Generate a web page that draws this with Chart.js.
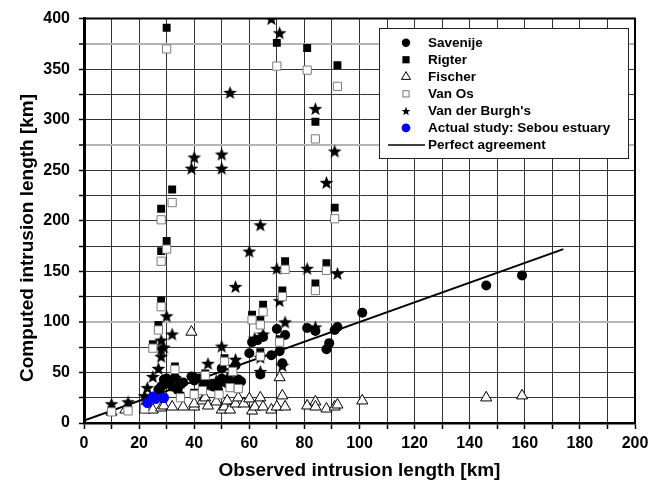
<!DOCTYPE html>
<html>
<head>
<meta charset="utf-8">
<script src="https://cdn.jsdelivr.net/npm/chart.js@4/dist/chart.umd.min.js"></script>
<style>
  html, body { margin: 0; padding: 0; background: #fff; }
  #wrap { width: 660px; height: 489px; }
</style>
</head>
<body>
<div id="wrap"><canvas id="c" width="660" height="489"></canvas></div>
<script>
// ---- data: observed vs computed salt intrusion length (km) ----
const savenijeObs  = [27,28,29,29,30,31,32,33,34,35,36,39,40,40,42,43,44,46,47,48,49,50,50,51,52,53,54,55,56,57,55,60,61,63,65,64,68,70,71,72,73,81,84,88,89,91,92,101,146,159];
const savenijeCalc = [33,36,38,43,44,40,36,45,33,38,40,46,42,45,44,43,40,38,36,37,39,54,44,41,39,37,40,41,43,41,57,69,80,82,85,48,67,93,71,59,87,94,91,73,79,92,95,109,136,146];

const rigterObs  = [30,70,81,92,84,32,28,30,28,91,73,88,84,72,65,61,64,28,27,25,71,64,51,33,44,54,43,49,53,56,35,40,10,16,22];
const rigterCalc = [391,376,371,354,298,231,212,180,170,213,160,158,138,131,117,107,102,121,97,78,83,70,64,56,49,54,35,31,38,36,27,30,13,14,16];

const fischerObs  = [39,71,146,159,101,10,15,22,25,28,29,32,36,40,40,43,44,45,48,50,51,52,53,55,56,58,60,61,62,64,65,68,70,72,73,81,84,84,88,91,92];
const fischerCalc = [90,45,25,27,22,11,13,13,13,15,17,16,16,16,19,22,25,17,21,13,16,22,13,19,25,19,24,12,16,25,16,13,16,27,16,17,21,16,14,16,18];

const vanOsObs  = [30,70,81,92,84,32,28,91,30,28,73,88,84,72,28,65,61,64,27,25,71,64,51,33,54,44,43,49,53,56,35,40,10,16,22];
const vanOsCalc = [370,353,349,333,281,218,201,202,172,160,152,151,131,125,115,110,102,97,92,74,80,66,61,53,51,47,32,28,35,34,25,28,11,12,14];

const burghObs  = [68,71,53,84,91,40,39,50,50,88,64,60,70,81,92,55,71,30,73,32,84,62,65,28,29,28,28,27,25,23,22,50,45,55,64,64,72,10,16,33,35,44,48,52,56];
const burghCalc = [400,386,327,311,269,263,252,266,252,238,196,170,153,153,148,135,121,106,100,88,95,84,88,82,75,73,66,54,46,35,27,76,59,63,65,51,57,19,21,45,40,38,42,45,42];

const sebouObs  = [23,25,26,29];
const sebouCalc = [20,26,24,25];

const agreementObs  = [0,174];
const agreementCalc = [2.5,172];

const seriesNames = ['Savenije','Rigter','Fischer','Van Os',"Van der Burgh's",'Actual study: Sebou estuary','Perfect agreement'];
const xTitle = 'Observed intrusion length [km]';
const yTitle = 'Computed intrusion length [km]';

const FONT = '"Liberation Sans", Arial, Helvetica, sans-serif';

const pts = (xs, ys) => xs.map((x, i) => ({ x: x, y: ys[i] }));

// filled five-pointed star used as a point style
function makeStar(size) {
  const cv = document.createElement('canvas');
  cv.width = size; cv.height = size;
  const g = cv.getContext('2d');
  const c = size / 2, ro = size / 2 - 0.3, ri = ro * 0.42;
  g.beginPath();
  for (let i = 0; i < 10; i++) {
    const r = i % 2 === 0 ? ro : ri;
    const a = -Math.PI / 2 + i * Math.PI / 5;
    const px = c + r * Math.cos(a), py = c + r * Math.sin(a) + size * 0.05;
    if (i === 0) g.moveTo(px, py); else g.lineTo(px, py);
  }
  g.closePath();
  g.fillStyle = '#000';
  g.fill();
  return cv;
}
const starBig = makeStar(15);
const starSmall = makeStar(10);

// symbol painter for the in-plot legend
function drawSymbol(ctx, item, x, y) {
  ctx.save();
  ctx.fillStyle = item.fill;
  ctx.strokeStyle = item.stroke;
  ctx.lineWidth = 1;
  const r = item.r;
  if (item.kind === 'circle') {
    ctx.beginPath(); ctx.arc(x, y, r, 0, Math.PI * 2); ctx.fill();
  } else if (item.kind === 'rect') {
    ctx.fillRect(x - r, y - r, 2 * r, 2 * r);
    if (item.stroke !== item.fill) ctx.strokeRect(x - r + 0.5, y - r + 0.5, 2 * r - 1, 2 * r - 1);
  } else if (item.kind === 'triangle') {
    ctx.beginPath();
    ctx.moveTo(x, y - r);
    ctx.lineTo(x + r * 0.866, y + r * 0.5);
    ctx.lineTo(x - r * 0.866, y + r * 0.5);
    ctx.closePath(); ctx.fill(); ctx.stroke();
  } else if (item.kind === 'star') {
    ctx.drawImage(starSmall, x - starSmall.width / 2, y - starSmall.height / 2);
  } else if (item.kind === 'line') {
    ctx.strokeStyle = '#000'; ctx.lineWidth = 1.5;
    ctx.beginPath(); ctx.moveTo(x - 18, y); ctx.lineTo(x + 19, y); ctx.stroke();
  }
  ctx.restore();
}

const legendSymbols = [
  { kind: 'circle',   r: 4.2, fill: '#000',    stroke: '#000' },
  { kind: 'rect',     r: 3.6, fill: '#000',    stroke: '#000' },
  { kind: 'triangle', r: 5.2, fill: '#fff',    stroke: '#000' },
  { kind: 'rect',     r: 3.6, fill: '#fff',    stroke: '#777' },
  { kind: 'star',     r: 4,   fill: '#000',    stroke: '#000' },
  { kind: 'circle',   r: 4.4, fill: '#0000ff', stroke: '#0000ff' },
  { kind: 'line',     r: 0,   fill: '#000',    stroke: '#000' }
];

const boxLegend = {
  id: 'boxLegend',
  afterDraw(chart) {
    const ctx = chart.ctx;
    const bx = 379.5, by = 28.5, bw = 249, bh = 130;
    ctx.save();
    ctx.fillStyle = '#fff';
    ctx.fillRect(bx, by, bw, bh);
    ctx.strokeStyle = '#222';
    ctx.lineWidth = 1;
    ctx.strokeRect(bx, by, bw, bh);
    ctx.font = 'bold 13.5px ' + FONT;
    ctx.fillStyle = '#000';
    ctx.textBaseline = 'middle';
    ctx.textAlign = 'left';
    seriesNames.forEach((name, i) => {
      const y = 42.7 + 17.05 * i;
      drawSymbol(ctx, legendSymbols[i], 406, y);
      ctx.fillText(name, 428, y + 0.5);
    });
    ctx.restore();
  }
};

const frameAndTitle = {
  id: 'frameAndTitle',
  afterDraw(chart) {
    const { ctx, chartArea: a } = chart;
    ctx.save();
    ctx.strokeStyle = '#000';
    ctx.lineWidth = 2;
    ctx.beginPath();
    ctx.moveTo(a.left, a.top);
    ctx.lineTo(a.right, a.top);
    ctx.lineTo(a.right, a.bottom);
    ctx.stroke();
    ctx.translate(28, 238);
    ctx.rotate(-Math.PI / 2);
    ctx.font = 'bold 19px ' + FONT;
    ctx.fillStyle = '#000';
    ctx.textAlign = 'center';
    ctx.textBaseline = 'middle';
    ctx.fillText(yTitle, 0, 0);
    ctx.restore();
  }
};

const lightRows = [100, 275, 375];

new Chart(document.getElementById('c'), {
  type: 'scatter',
  data: {
    datasets: [
      { label: seriesNames[5], data: pts(sebouObs, sebouCalc), order: 0, clip: 0,
        pointStyle: 'circle', pointRadius: 5.2, pointBackgroundColor: '#0000ff', pointBorderColor: '#0000ff', pointBorderWidth: 0 },
      { label: seriesNames[3], data: pts(vanOsObs, vanOsCalc), order: 1, clip: 0,
        pointStyle: 'rect', pointRadius: 5.8, pointBackgroundColor: '#fff', pointBorderColor: '#7a7a7a', pointBorderWidth: 1 },
      { label: seriesNames[1], data: pts(rigterObs, rigterCalc), order: 2, clip: 0,
        pointStyle: 'rect', pointRadius: 5.6, pointBackgroundColor: '#000', pointBorderColor: '#000', pointBorderWidth: 0 },
      { label: seriesNames[4], data: pts(burghObs, burghCalc), order: 3, clip: 0,
        pointStyle: starBig, pointRadius: 7 },
      { label: seriesNames[0], data: pts(savenijeObs, savenijeCalc), order: 4, clip: 0,
        pointStyle: 'circle', pointRadius: 5, pointBackgroundColor: '#000', pointBorderColor: '#000', pointBorderWidth: 0 },
      { label: seriesNames[2], data: pts(fischerObs, fischerCalc), order: 5, clip: 0,
        pointStyle: 'triangle', pointRadius: 6.4, pointBackgroundColor: '#fff', pointBorderColor: '#000', pointBorderWidth: 1 },
      { label: seriesNames[6], data: pts(agreementObs, agreementCalc), order: 6, type: 'line',
        showLine: true, borderColor: '#000', borderWidth: 2, pointRadius: 0, fill: false, tension: 0 }
    ]
  },
  options: {
    responsive: false,
    animation: false,
    devicePixelRatio: 1,
    layout: { padding: { left: 0, right: 25, top: 15, bottom: 0 } },
    plugins: { legend: { display: false }, tooltip: { enabled: false } },
    scales: {
      x: {
        type: 'linear', min: 0, max: 200, position: 'bottom',
        afterFit: s => { s.height = 66; },
        ticks: {
          stepSize: 10, autoSkip: false, maxRotation: 0, padding: 5,
          color: '#000', font: { family: FONT, size: 16, weight: 'bold' },
          callback: v => (v % 20 === 0 ? v : '')
        },
        grid: { color: '#333', lineWidth: 1, tickLength: 6, tickColor: '#000', tickWidth: 1.5 },
        border: { display: true, color: '#000', width: 2.5 },
        title: { display: true, text: xTitle, color: '#000',
                 font: { family: FONT, size: 19, weight: 'bold' }, padding: { top: 0, bottom: 7 } }
      },
      y: {
        type: 'linear', min: 0, max: 400, position: 'left',
        afterFit: s => { s.width = 84; },
        ticks: {
          stepSize: 25, autoSkip: false, padding: 9,
          color: '#000', font: { family: FONT, size: 16, weight: 'bold' },
          callback: v => (v % 50 === 0 ? v : '')
        },
        grid: {
          color: c => (lightRows.includes(c.tick && c.tick.value) ? '#b4b4b4' : '#333'),
          lineWidth: c => (lightRows.includes(c.tick && c.tick.value) ? 2 : 1),
          tickLength: 5, tickColor: '#000', tickWidth: 1.5
        },
        border: { display: true, color: '#000', width: 3 }
      }
    }
  },
  plugins: [frameAndTitle, boxLegend]
});
</script>
</body>
</html>
